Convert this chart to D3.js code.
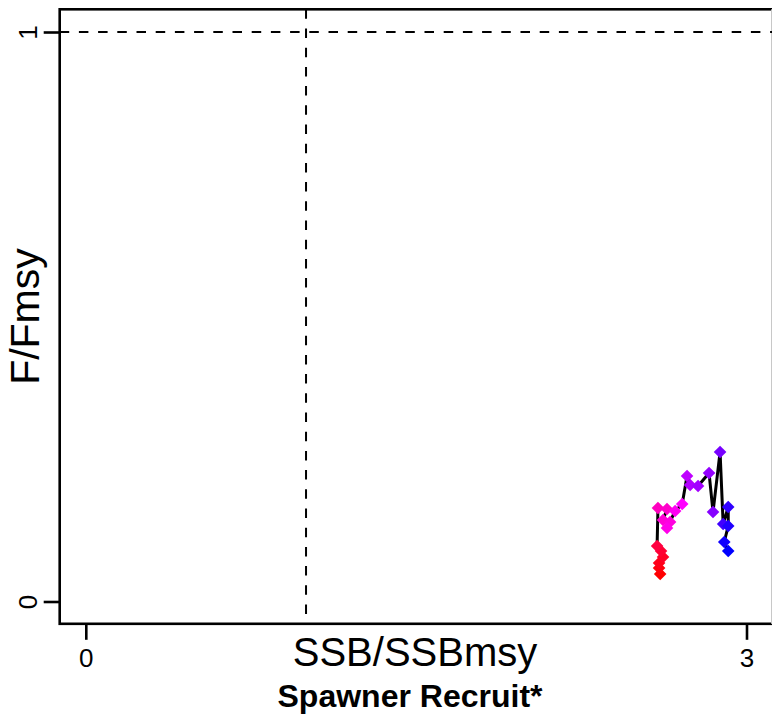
<!DOCTYPE html>
<html>
<head>
<meta charset="utf-8">
<script src="https://cdn.jsdelivr.net/npm/d3@7"></script>
<style>
  html, body { margin: 0; padding: 0; background: #fff; }
  svg { display: block; }
  text { font-family: "Liberation Sans", Arial, Helvetica, sans-serif; fill: #000; }
</style>
</head>
<body>
<script>
// ---- data ----
const ssbRatio = [2.608, 2.603, 2.603, 2.621, 2.612, 2.594,
                  2.598, 2.639, 2.621, 2.653, 2.639, 2.676, 2.708,
                  2.730, 2.744, 2.780, 2.830, 2.848, 2.880,
                  2.894, 2.917, 2.917, 2.899, 2.917];
const fRatio   = [0.0483, 0.0588, 0.0676, 0.0781, 0.0887, 0.0975,
                  0.1642, 0.1624, 0.1431, 0.1396, 0.1291, 0.1589, 0.1712,
                  0.2204, 0.2046, 0.2028, 0.2256, 0.1572, 0.2625,
                  0.1361, 0.1659, 0.1326, 0.1045, 0.0887];
const xTicks = [0, 3];
const yTicks = [0, 1];
const refX = 1;   // SSB/SSBmsy reference
const refY = 1;   // F/Fmsy reference
const xTitle = "SSB/SSBmsy";
const yTitle = "F/Fmsy";
const subTitle = "Spawner Recruit*";

// ---- layout ----
const W = 772, H = 723;
const box = { left: 59.7, top: 9.3, bottom: 623.8, right: 800 };

const x = d3.scaleLinear().domain([0, 3]).range([85.8, 746.5]);
const y = d3.scaleLinear().domain([0, 1]).range([601.5, 32]);

const svg = d3.select("body").append("svg").attr("width", W).attr("height", H);

// box
svg.append("rect")
  .attr("x", box.left).attr("y", box.top)
  .attr("width", box.right - box.left).attr("height", box.bottom - box.top)
  .attr("fill", "none").attr("stroke", "#000").attr("stroke-width", 2.6);
// right edge of picture
svg.append("line")
  .attr("x1", W - 0.5).attr("x2", W - 0.5).attr("y1", box.top).attr("y2", box.bottom)
  .attr("stroke", "#c8c8c8").attr("stroke-width", 1);

// reference lines
svg.append("line")
  .attr("x1", box.left).attr("x2", W).attr("y1", y(refY)).attr("y2", y(refY))
  .attr("stroke", "#000").attr("stroke-width", 2).attr("stroke-dasharray", "9.5,9.7");
svg.append("line")
  .attr("x1", x(refX)).attr("x2", x(refX)).attr("y1", box.top).attr("y2", box.bottom)
  .attr("stroke", "#000").attr("stroke-width", 2).attr("stroke-dasharray", "9.5,9.7");

// x axis ticks
const xAxis = d3.axisBottom(x).tickValues(xTicks).tickFormat(d3.format("d")).tickSize(16).tickPadding(8);
const gx = svg.append("g").attr("transform", `translate(0,${box.bottom})`).call(xAxis);
gx.select(".domain").remove();
gx.selectAll(".tick line").attr("stroke", "#000").attr("stroke-width", 2.6);
gx.selectAll(".tick text").attr("font-size", 26).attr("dy", null).attr("y", 43)
  .attr("font-family", "Liberation Sans, Arial, sans-serif").attr("fill", "#000");

// y axis ticks
const yAxis = d3.axisLeft(y).tickValues(yTicks).tickFormat(d3.format("d")).tickSize(16);
const gy = svg.append("g").attr("transform", `translate(${box.left},0)`).call(yAxis);
gy.select(".domain").remove();
gy.selectAll(".tick line").attr("stroke", "#000").attr("stroke-width", 2.6);
gy.selectAll(".tick text")
  .attr("font-size", 26).attr("x", null).attr("dy", null)
  .attr("text-anchor", "middle")
  .attr("font-family", "Liberation Sans, Arial, sans-serif").attr("fill", "#000")
  .attr("transform", "translate(-22.5,0) rotate(-90)");

// titles
svg.append("text").attr("x", 415).attr("y", 666)
  .attr("text-anchor", "middle").attr("font-size", 40).text(xTitle);
svg.append("text").attr("x", 410).attr("y", 707)
  .attr("text-anchor", "middle").attr("font-size", 32).attr("font-weight", "bold").text(subTitle);
svg.append("text")
  .attr("transform", `translate(39,${(box.top + box.bottom) / 2}) rotate(-90)`)
  .attr("text-anchor", "middle").attr("font-size", 41).text(yTitle);

// data
const pts = ssbRatio.map((v, i) => ({ x: v, y: fRatio[i], i }));
const n = pts.length;
const hue = d3.scaleLinear().domain([0, 5, 6, 12, 13, 18, 19, n - 1])
  .range([360, 345, 315, 300, 285, 268, 255, 240]);
const color = i => d3.hsl(hue(i), 1, 0.5).toString();

svg.append("path")
  .datum(pts)
  .attr("fill", "none").attr("stroke", "#000").attr("stroke-width", 3)
  .attr("stroke-linejoin", "round")
  .attr("d", d3.line().x(d => x(d.x)).y(d => y(d.y)));

const r = 6.3;
svg.append("g").selectAll("path")
  .data(pts).join("path")
  .attr("d", d => {
    const cx = x(d.x), cy = y(d.y);
    return `M${cx},${cy - r}L${cx + r},${cy}L${cx},${cy + r}L${cx - r},${cy}Z`;
  })
  .attr("fill", d => color(d.i));
</script>
</body>
</html>
